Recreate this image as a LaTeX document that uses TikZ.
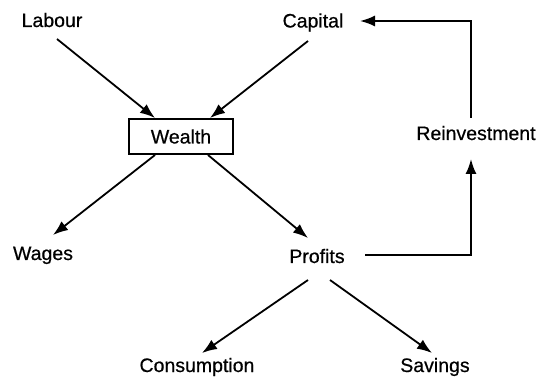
\documentclass[tikz,border=0pt]{standalone}
\usepackage{fontspec}
\setmainfont[FakeBold=0.6]{Liberation Sans}
\usetikzlibrary{arrows.meta}
\begin{document}
\begin{tikzpicture}[x=1pt,y=-1pt,
  lbl/.style={anchor=base, inner sep=0pt, font=\fontsize{19.5}{23}\selectfont},
  conn/.style={line width=1.8pt, -{Latex[length=15pt,width=11pt]}},
  ]
\useasboundingbox (0,0) rectangle (544,382);
\node[lbl] (lab) at (52,27) {Labour};
\node[lbl] (cap) at (313,27.5) {Capital};
\node[draw, line width=2pt, minimum width=104pt, minimum height=35pt, inner sep=0pt,
      font=\fontsize{19.5}{23}\selectfont] (wealth) at (181,136.5) {Wealth};
\node[lbl] (wages) at (43,260) {Wages};
\node[lbl] (profits) at (317,263) {Profits};
\node[lbl] (reinv) at (476,140) {Reinvestment};
\node[lbl] (cons) at (197,372) {Consumption};
\node[lbl] (sav) at (435,372) {Savings};

\draw[conn] ([shift={(5,12)}]lab.base) -- ([shift={(-26,0)}]wealth.north);
\draw[conn] ([shift={(-5,13.5)}]cap.base) -- ([shift={(29,0)}]wealth.north);
\draw[conn] ([shift={(-26,0)}]wealth.south) -- ([shift={(10,-25)}]wages.base);
\draw[conn] ([shift={(27,0)}]wealth.south) -- ([shift={(-9,-25)}]profits.base);
\draw[conn] ([shift={(-9,17)}]profits.base) -- ([shift={(5,-19)}]cons.base);
\draw[conn] ([shift={(13,17)}]profits.base) -- ([shift={(-3,-19)}]sav.base);
\draw[conn] ([shift={(48,-8)}]profits.base) -| ([shift={(-5,19)}]reinv.base);
\draw[conn] ([shift={(-5,-22)}]reinv.base) |- ([shift={(47,-6.5)}]cap.base);
\end{tikzpicture}
\end{document}
